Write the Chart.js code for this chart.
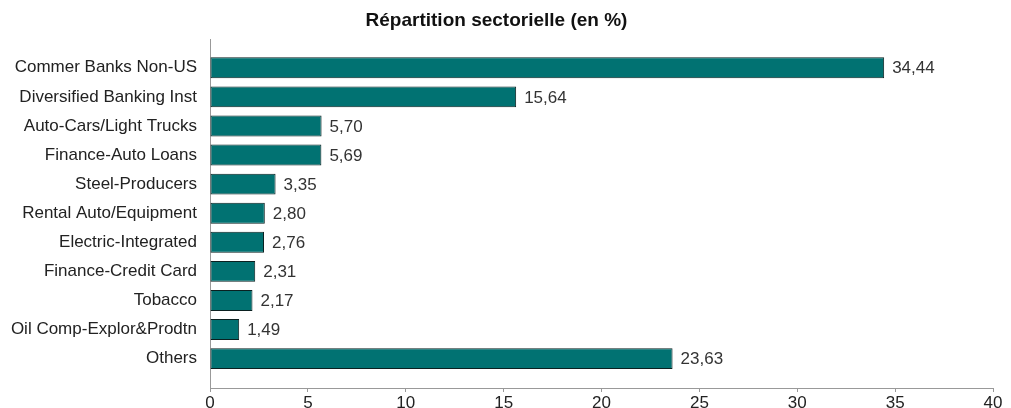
<!DOCTYPE html>
<html>
<head>
<meta charset="utf-8">
<script src="https://cdn.jsdelivr.net/npm/chart.js@4"></script>
<style>
  html, body { margin: 0; padding: 0; background: #fff; }
  #wrap { width: 1011px; height: 408px; }
</style>
</head>
<body>
<div id="wrap"><canvas id="chart" width="1011" height="408"></canvas></div>
<script>
const sectors = ['Commer Banks Non-US', 'Diversified Banking Inst', 'Auto-Cars/Light Trucks', 'Finance-Auto Loans',
  'Steel-Producers', 'Rental Auto/Equipment', 'Electric-Integrated', 'Finance-Credit Card', 'Tobacco',
  'Oil Comp-Explor&Prodtn', 'Others'];
const weights = [34.44, 15.64, 5.70, 5.69, 3.35, 2.80, 2.76, 2.31, 2.17, 1.49, 23.63];
const xTicks = [0, 5, 10, 15, 20, 25, 30, 35, 40];

const FONT = "'Liberation Sans', Arial, sans-serif";
const fmt = v => v.toFixed(2).replace('.', ',');

// value labels at the end of each bar
const valueLabels = {
  id: 'valueLabels',
  afterDatasetsDraw(chart) {
    const ctx = chart.ctx;
    ctx.save();
    ctx.font = '17px ' + FONT;
    ctx.fillStyle = '#333';
    ctx.textAlign = 'left';
    ctx.textBaseline = 'middle';
    chart.getDatasetMeta(0).data.forEach((bar, i) => {
      ctx.fillText(fmt(weights[i]), bar.x + 8, bar.y + 1);
    });
    ctx.restore();
  }
};

new Chart(document.getElementById('chart'), {
  type: 'bar',
  data: {
    datasets: [{
      data: weights.map((v, i) => ({ x: v, y: i })),
      backgroundColor: '#017272',
      borderColor: '#0a2020',
      borderWidth: 1,
      borderSkipped: false
    }]
  },
  options: {
    indexAxis: 'y',
    responsive: false,
    animation: false,
    layout: { padding: { left: 0, right: 18, top: 0, bottom: 0 } },
    plugins: {
      legend: { display: false },
      tooltip: { enabled: false },
      title: {
        display: true,
        text: 'Répartition sectorielle (en %)',
        color: '#111',
        font: { family: FONT, size: 19, weight: 'bold' },
        padding: { top: 9, bottom: 8 }
      }
    },
    scales: {
      x: {
        type: 'linear',
        min: 0,
        max: 40,
        afterBuildTicks: s => { s.ticks = xTicks.map(v => ({ value: v })); },
        afterFit: s => { s.height = 20; },
        grid: { display: true, drawOnChartArea: false, drawTicks: true, tickLength: 4, color: '#999' },
        border: { display: true, color: '#999', width: 1 },
        ticks: { color: '#222', padding: 1, font: { family: FONT, size: 17 } }
      },
      y: {
        type: 'linear',
        reverse: true,
        offset: false,
        min: -0.963,
        max: 11.01,
        afterBuildTicks: s => { s.ticks = sectors.map((_, i) => ({ value: i })); },
        afterFit: s => { s.width = 210; },
        grid: { display: false, offset: false },
        border: { display: true, color: '#999', width: 1 },
        ticks: {
          color: '#222',
          padding: 5,
          autoSkip: false,
          font: { family: FONT, size: 17 },
          callback: v => sectors[v] ?? ''
        }
      }
    }
  },
  plugins: [valueLabels]
});
</script>
</body>
</html>
